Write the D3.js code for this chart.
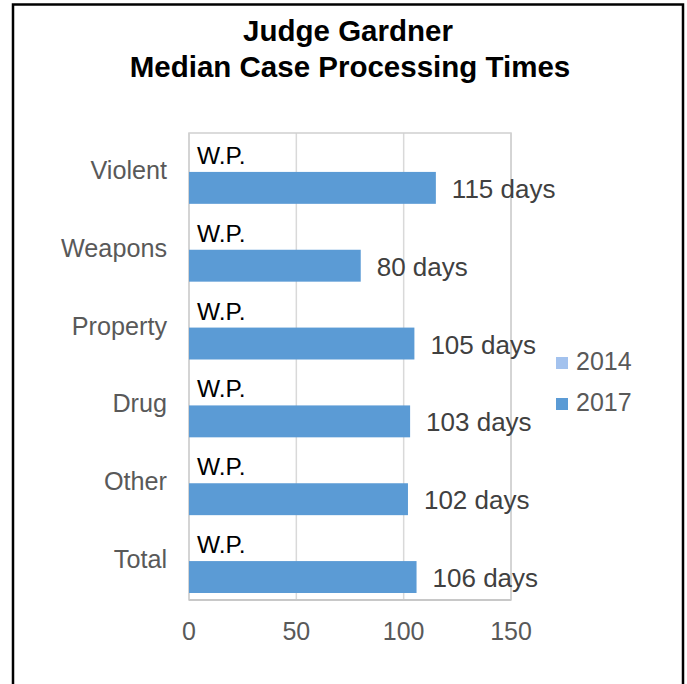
<!DOCTYPE html>
<html>
<head>
<meta charset="utf-8">
<script src="https://cdn.jsdelivr.net/npm/d3@7"></script>
<style>
  html, body { margin: 0; padding: 0; background: #fff; }
  svg { display: block; }
  text { font-family: "Liberation Sans", Arial, sans-serif; }
</style>
</head>
<body>
<svg id="chart" width="687" height="684"></svg>
<script>
const titleLines = ["Judge Gardner", "Median Case Processing Times"];
const categories = ["Violent", "Weapons", "Property", "Drug", "Other", "Total"];
const seriesNames = ["2014", "2017"];
const values2014 = [0, 0, 0, 0, 0, 0];
const labels2014 = ["W.P.", "W.P.", "W.P.", "W.P.", "W.P.", "W.P."];
const values2017 = [115, 80, 105, 103, 102, 106];
const labels2017 = ["115 days", "80 days", "105 days", "103 days", "102 days", "106 days"];
const xTicks = [0, 50, 100, 150];
const seriesColors = ["#a3c2ee", "#5b9bd5"];

const svg = d3.select("#chart");

// outer frame
svg.append("rect").attr("x", 13).attr("y", 4.5).attr("width", 670).attr("height", 700)
  .attr("fill", "#fff").attr("stroke", "#000").attr("stroke-width", 2.5);

// title
svg.append("text").attr("x", 348).attr("y", 41).attr("text-anchor", "middle")
  .attr("font-size", 29.5).attr("font-weight", "bold").attr("fill", "#000").text(titleLines[0]);
svg.append("text").attr("x", 350).attr("y", 77).attr("text-anchor", "middle")
  .attr("font-size", 29.5).attr("font-weight", "bold").attr("fill", "#000").text(titleLines[1]);

const x = d3.scaleLinear().domain([0, 150]).range([189, 511]);
const y = d3.scaleBand().domain(categories).range([133, 600]).paddingInner(0.18).paddingOuter(0.09);
const ySub = d3.scaleBand().domain(seriesNames).range([0, y.bandwidth()]);

// gridlines
svg.append("g").selectAll("line").data(xTicks).join("line")
  .attr("x1", d => x(d)).attr("x2", d => x(d))
  .attr("y1", 133).attr("y2", 600)
  .attr("stroke", "#d9d9d9").attr("stroke-width", 1.5);

// plot border
svg.append("rect").attr("x", x(0)).attr("y", 133).attr("width", x(150) - x(0)).attr("height", 600 - 133)
  .attr("fill", "none").attr("stroke", "#d0d0d0").attr("stroke-width", 1.5);
svg.append("line").attr("x1", x(0)).attr("x2", x(150)).attr("y1", 600).attr("y2", 600)
  .attr("stroke", "#c8c8c8").attr("stroke-width", 2);

const rows = categories.map((c, i) => ({
  cat: c, v14: values2014[i], l14: labels2014[i], v17: values2017[i], l17: labels2017[i]
}));

// bars 2014 (zero) and 2017
svg.append("g").selectAll("rect").data(rows).join("rect")
  .attr("x", x(0)).attr("y", d => y(d.cat) + ySub("2014"))
  .attr("width", d => x(d.v14) - x(0)).attr("height", ySub.bandwidth())
  .attr("fill", seriesColors[0]);
svg.append("g").selectAll("rect").data(rows).join("rect")
  .attr("x", x(0)).attr("y", d => y(d.cat) + ySub("2017"))
  .attr("width", d => x(d.v17) - x(0)).attr("height", ySub.bandwidth())
  .attr("fill", seriesColors[1]);

// labels
svg.append("g").selectAll("text").data(rows).join("text")
  .attr("x", d => x(d.v14) + 8)
  .attr("y", d => y(d.cat) + ySub("2014") + ySub.bandwidth() / 2 + 8)
  .attr("font-size", 24.5).attr("fill", "#000").text(d => d.l14);
svg.append("g").selectAll("text").data(rows).join("text")
  .attr("x", d => x(d.v17) + 16)
  .attr("y", d => y(d.cat) + ySub("2017") + ySub.bandwidth() / 2 + 10)
  .attr("font-size", 26).attr("fill", "#404040").text(d => d.l17);

// category axis labels
svg.append("g").selectAll("text").data(categories).join("text")
  .attr("x", 167).attr("y", d => y(d) + y.bandwidth() / 2 + 7)
  .attr("text-anchor", "end").attr("font-size", 25.2).attr("fill", "#595959").text(d => d);

// x tick labels
svg.append("g").selectAll("text").data(xTicks).join("text")
  .attr("x", d => x(d)).attr("y", 640).attr("text-anchor", "middle")
  .attr("font-size", 25).attr("fill", "#595959").text(d => d);

// legend
const legend = svg.append("g").selectAll("g").data(seriesNames).join("g")
  .attr("transform", (d, i) => `translate(556, ${357 + i * 41})`);
legend.append("rect").attr("x", 0).attr("y", 0).attr("width", 12).attr("height", 12)
  .attr("fill", (d, i) => seriesColors[i]);
legend.append("text").attr("x", 20).attr("y", 13).attr("font-size", 25)
  .attr("fill", "#595959").text(d => d);
</script>
</body>
</html>
